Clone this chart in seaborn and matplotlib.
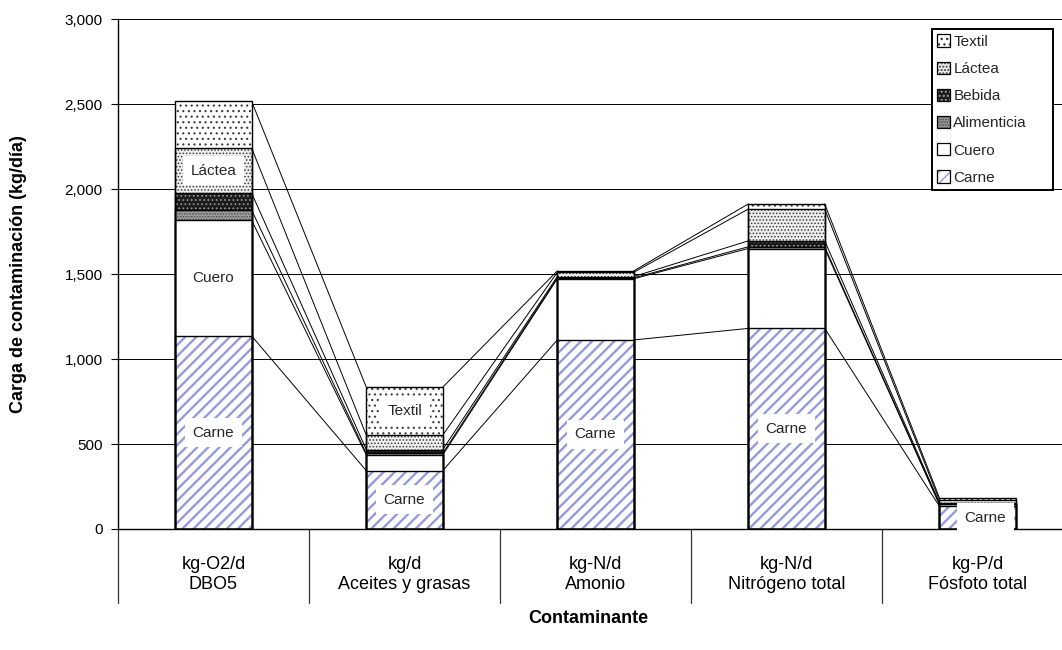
import numpy as np
import pandas as pd
import matplotlib
matplotlib.use("Agg")
import matplotlib.pyplot as plt
import seaborn as sns
from matplotlib.patches import Patch
from matplotlib.legend_handler import HandlerTuple
from matplotlib.ticker import FuncFormatter
from matplotlib.transforms import blended_transform_factory

# Carga de contaminación por sector industrial (kg/día)
contaminantes = [
    "kg-O2/d\nDBO5",
    "kg/d\nAceites y grasas",
    "kg-N/d\nAmonio",
    "kg-N/d\nNitrógeno total",
    "kg-P/d\nFósfoto total",
]
sectores = ["Carne", "Cuero", "Alimenticia", "Bebida", "Láctea", "Textil"]
carne = [1135, 343, 1112, 1180, 135]
cuero = [680, 92, 360, 470, 10]
alimenticia = [60, 10, 5, 10, 3]
bebida = [100, 22, 8, 35, 7]
lactea = [265, 85, 25, 187, 15]
textil = [275, 282, 8, 30, 15]
y_ticks = [0, 500, 1000, 1500, 2000, 2500, 3000]

series = np.array([carne, cuero, alimenticia, bebida, lactea, textil], dtype=float)
acumulado = np.cumsum(series, axis=0)

estilos = {
    "Carne": dict(color="white", hatch="///", edgecolor="#959bda", hlw=1.7),
    "Cuero": dict(color="white", hatch="", edgecolor="black", hlw=1.0),
    "Alimenticia": dict(color="#9c9c9c", hatch="......", edgecolor="#4a4a4a", hlw=0.7),
    "Bebida": dict(color="#1c1c1c", hatch="....", edgecolor="#9a9a9a", hlw=0.7),
    "Láctea": dict(color="#eeeeee", hatch=".....", edgecolor="#3a3a3a", hlw=0.7),
    "Textil": dict(color="white", hatch="...", edgecolor="#3a3a3a", hlw=0.8),
}

sns.set_theme(style="white")
plt.rcParams["font.family"] = ["Liberation Sans", "DejaVu Sans"]

W, H = 1062, 650
fig = plt.figure(figsize=(W / 100, H / 100), dpi=100)
ax = fig.add_axes([118 / W, 121 / H, 944 / W, 510 / H])

ancho = 0.4

# Stacked bars: draw cumulative totals from the top layer down
for k in reversed(range(len(sectores))):
    st = estilos[sectores[k]]
    df = pd.DataFrame({"contaminante": contaminantes, "valor": acumulado[k]})
    n0 = len(ax.patches)
    with plt.rc_context({"hatch.linewidth": st["hlw"]}):
        sns.barplot(data=df, x="contaminante", y="valor", order=contaminantes,
                    color=st["color"], saturation=1, width=ancho, errorbar=None,
                    hatch=st["hatch"], edgecolor=st["edgecolor"], linewidth=0,
                    ax=ax, zorder=2)
    for p in ax.patches[n0:]:
        if hasattr(p, "set_hatch_linewidth"):
            p.set_hatch_linewidth(st["hlw"])

# Segment outlines
for k in range(len(sectores)):
    df = pd.DataFrame({"contaminante": contaminantes, "valor": acumulado[k]})
    sns.barplot(data=df, x="contaminante", y="valor", order=contaminantes,
                fill=False, color="black", width=ancho, errorbar=None,
                linewidth=1.0, ax=ax, zorder=3)

# Series lines joining each layer between neighbouring bars
for k in range(len(sectores)):
    for i in range(len(contaminantes) - 1):
        ax.plot([i + ancho / 2, i + 1 - ancho / 2],
                [acumulado[k][i], acumulado[k][i + 1]],
                color="black", lw=0.7, zorder=1)

# Labels inside the segments
caja = dict(boxstyle="square,pad=0.5", fc="white", ec="none")
fs_lbl = 11
for i, v in enumerate(carne):
    dx = 0.04 if i == len(carne) - 1 else 0
    ax.text(i + dx, v / 2, "Carne", ha="center", va="center", fontsize=fs_lbl,
            bbox=caja, zorder=5)
ax.text(0, (acumulado[0][0] + acumulado[1][0]) / 2, "Cuero", ha="center",
        va="center", fontsize=fs_lbl, bbox=caja, zorder=5)
ax.text(0, (acumulado[3][0] + acumulado[4][0]) / 2, "Láctea", ha="center",
        va="center", fontsize=fs_lbl, bbox=caja, zorder=5)
ax.text(1, (acumulado[4][1] + acumulado[5][1]) / 2, "Textil", ha="center",
        va="center", fontsize=fs_lbl, bbox=caja, zorder=5)

# Axes
ax.set_xlim(-0.5, -0.5 + 944 / 191)
ax.set_ylim(0, 3000)
ax.set_yticks(y_ticks)
ax.yaxis.set_major_formatter(FuncFormatter(lambda v, p: f"{v:,.0f}"))
ax.yaxis.grid(True, color="black", lw=0.7)
ax.set_axisbelow(True)
for s in ["top", "right"]:
    ax.spines[s].set_visible(False)
for s in ["left", "bottom"]:
    ax.spines[s].set_color("black")
    ax.spines[s].set_linewidth(1.0)
ax.tick_params(axis="y", left=True, length=5, width=0.8, color="black",
               labelsize=11, pad=6, labelcolor="black")
ax.tick_params(axis="x", length=0, pad=19.5, labelsize=13, labelcolor="black")
ax.set_xticks(range(len(contaminantes)))
ax.set_xticklabels(contaminantes)
for t in ax.get_xticklabels():
    t.set_linespacing(1.2)

# Category separators below the axis
trans = blended_transform_factory(ax.transData, ax.transAxes)
for b in np.arange(-0.5, len(contaminantes) - 1):
    ax.plot([b, b], [0, -74 / 510], transform=trans, clip_on=False,
            color="#333333", lw=0.9)

ax.set_xlabel("Contaminante", fontsize=13, fontweight="bold", color="black")
ax.xaxis.set_label_coords(470 / 944, -(610 - 529) / 510)
ax.set_ylabel("Carga de contaminación (kg/día)", fontsize=13,
              fontweight="bold", color="black")
ax.yaxis.set_label_coords(-(118 - 27) / 944, 0.5)

# Legend, top layer first: hatched swatch with a black outline
handles = []
for s in reversed(sectores):
    st = estilos[s]
    relleno = Patch(facecolor=st["color"], hatch=st["hatch"],
                    edgecolor=st["edgecolor"], linewidth=0)
    if hasattr(relleno, "set_hatch_linewidth"):
        relleno.set_hatch_linewidth(min(st["hlw"], 1.2))
    borde = Patch(facecolor="none", edgecolor="black", linewidth=0.9)
    handles.append((relleno, borde))
leg = ax.legend(handles, list(reversed(sectores)), loc="upper left",
                bbox_to_anchor=(932 / W, 1 - 188 / H, 121 / W, 159 / H),
                bbox_transform=fig.transFigure, mode="expand", fontsize=11,
                handler_map={tuple: HandlerTuple(ndivide=1, pad=0)},
                frameon=True, fancybox=False, framealpha=1,
                handlelength=0.85, handleheight=0.85, handletextpad=0.2,
                labelspacing=0.84, borderpad=0.35, borderaxespad=0)
leg.get_frame().set_edgecolor("black")
leg.get_frame().set_linewidth(1.4)

fig.savefig("out.png", dpi=100)
